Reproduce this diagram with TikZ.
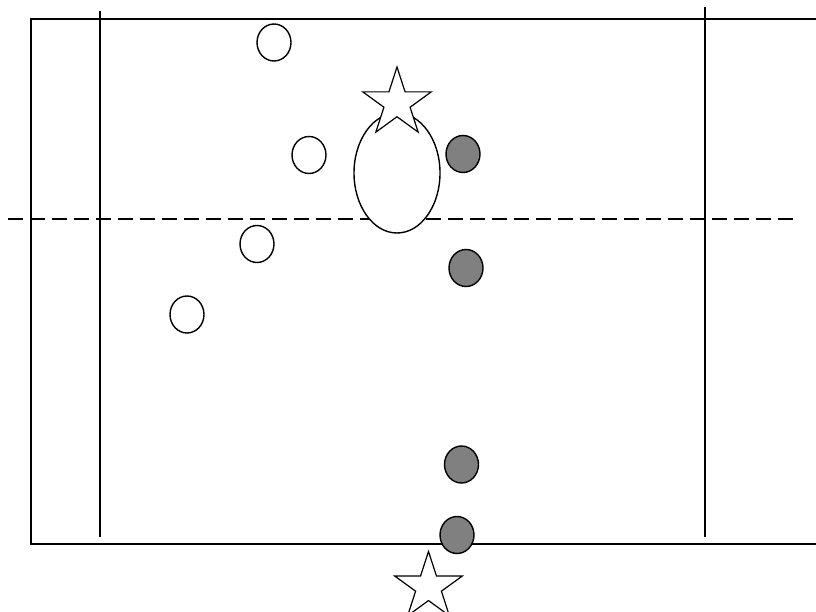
\documentclass[tikz,border=0pt]{standalone}
\usetikzlibrary{calc}
\tikzset{
  lin/.style={line width=1.4pt, black},
  dashln/.style={line width=1.4pt, black, dash pattern=on 15pt off 7pt},
  whitedot/.style={line width=1.4pt, draw=black, fill=white},
  graydot/.style={line width=1.4pt, draw=black, fill=gray!100},
  starshape/.style={line width=1.2pt, draw=black, fill=white, line join=miter},
}
\newcommand{\drawmystar}[3]{% cx, cy, R
  \draw[starshape, shift={(#1,#2)}]
    (270:#3) -- (306:{0.382*#3}) -- (342:#3) -- (18:{0.382*#3}) -- (54:#3)
    -- (90:{0.382*#3}) -- (126:#3) -- (162:{0.382*#3}) -- (198:#3)
    -- (234:{0.382*#3}) -- cycle;
}
\begin{document}
\begin{tikzpicture}[x=1pt,y=-1pt]
\useasboundingbox (0,0) rectangle (816,612);
% frame
\draw[lin] (816,19) -- (31,19) -- (31,544) -- (816,544);
% vertical lines
\draw[lin] (100,11) -- (100,537);
\draw[lin] (705,7) -- (705,537);
% dashed centre line
\draw[dashln] (8,219) -- (797,219);
% white dots
\draw[whitedot] (274,42.5) ellipse [x radius=17, y radius=18.5];
\draw[whitedot] (309,155) ellipse [x radius=17, y radius=18.5];
\draw[whitedot] (257,244) ellipse [x radius=17, y radius=18.5];
\draw[whitedot] (187,314.5) ellipse [x radius=17, y radius=18.5];
% gray dots
\draw[graydot] (463,154) ellipse [x radius=17, y radius=18.5];
\draw[graydot] (466,268) ellipse [x radius=17, y radius=18.5];
\draw[graydot] (461.5,464.5) ellipse [x radius=17, y radius=18.5];
\draw[graydot] (457,535) ellipse [x radius=17, y radius=18.5];
% big ellipse
\draw[whitedot] (397,173) ellipse [x radius=43, y radius=60];
% stars
\drawmystar{397}{103}{36}
\drawmystar{428.5}{587}{35.5}
\end{tikzpicture}
\end{document}
